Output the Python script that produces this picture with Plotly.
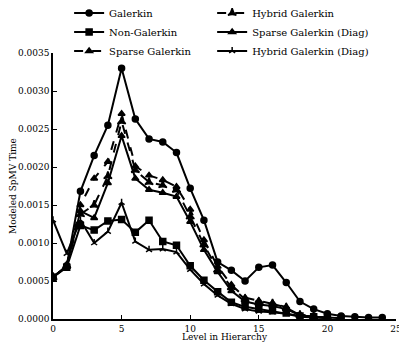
import plotly.graph_objects as go

levels = list(range(25))

galerkin = [0.00055, 0.0007, 0.00168, 0.00215, 0.00255, 0.0033, 0.00263, 0.00237, 0.00233,
            0.00219, 0.00172, 0.0013, 0.00075, 0.00064, 0.0005, 0.00068, 0.00071, 0.00048,
            0.00023, 0.00013, 0.00007, 0.00004, 0.00003, 0.00002, 0.00002]
non_galerkin = [0.00055, 0.00068, 0.00123, 0.00117, 0.00129, 0.00131, 0.00114, 0.0013, 0.00102,
                0.00097, 0.0007, 0.00051, 0.00036, 0.00022, 0.00016, 0.00013, 0.00011, 0.00008,
                0.00004, 0.00003, 0.00002, 0.00001]
sparse_galerkin = [0.00055, 0.0007, 0.0015, 0.00185, 0.00207, 0.0027, 0.00201, 0.00189, 0.00183,
                   0.00174, 0.00144, 0.00104, 0.00069, 0.00045, 0.00028, 0.00024, 0.00021, 0.00016,
                   0.00006, 0.00003, 0.00002]
hybrid_galerkin = [0.00055, 0.0007, 0.00138, 0.0015, 0.00188, 0.0026, 0.00196, 0.0018, 0.00176,
                   0.0017, 0.00135, 0.00098, 0.00065, 0.00042, 0.00026, 0.00022, 0.0002, 0.00015,
                   0.00005, 0.00003, 0.00002]
sparse_diag = [0.00055, 0.0007, 0.00142, 0.00133, 0.00179, 0.00241, 0.00185, 0.0017, 0.00166,
               0.00161, 0.00128, 0.00091, 0.00062, 0.00037, 0.00023, 0.00019, 0.00017, 0.00013,
               0.00005, 0.00003, 0.00002]
hybrid_diag = [0.0013, 0.00086, 0.0013, 0.001, 0.00115, 0.00153, 0.00102, 0.00091, 0.00092,
               0.00088, 0.00065, 0.00046, 0.00031, 0.0002, 0.00013, 0.0001, 0.00009, 0.00007,
               0.00003, 0.00002, 0.00001]

x_ticks = [0, 5, 10, 15, 20, 25]
y_ticks = [0.0, 0.0005, 0.001, 0.0015, 0.002, 0.0025, 0.003, 0.0035]

# (name, values, marker symbol, marker size, dash, legend column)
series = [
    ("Galerkin", galerkin, "circle", 6, "solid", "legend"),
    ("Non-Galerkin", non_galerkin, "square", 6, "solid", "legend"),
    ("Sparse Galerkin", sparse_galerkin, "triangle-up", 6, "dash", "legend"),
    ("Hybrid Galerkin", hybrid_galerkin, "star-triangle-up", 6, "dash", "legend2"),
    ("Sparse Galerkin (Diag)", sparse_diag, "triangle-up", 6, "solid", "legend2"),
    ("Hybrid Galerkin (Diag)", hybrid_diag, "y-up", 5, "solid", "legend2"),
]

fig = go.Figure()
for name, vals, sym, size, dash, leg in series:
    fig.add_trace(go.Scatter(
        x=levels[:len(vals)], y=vals,
        mode="lines+markers",
        name=name,
        legend=leg,
        line=dict(color="black", width=2, dash=dash),
        marker=dict(symbol=sym, size=size, color="black",
                    line=dict(color="black", width=1.5)),
    ))

font = dict(family="DejaVu Serif", size=9, color="black")
leg_font = dict(family="DejaVu Serif", size=10, color="black")
# page body adds 8px on each side, so the figure is smaller than the window
fig.update_layout(
    width=399, height=334,
    paper_bgcolor="white", plot_bgcolor="white",
    font=font,
    margin=dict(l=45, r=11, t=45, b=23, autoexpand=False),
    legend=dict(x=0.047, y=1.205, xanchor="left", yanchor="top", itemwidth=30,
                font=leg_font, bgcolor="rgba(0,0,0,0)", tracegroupgap=0),
    legend2=dict(x=0.464, y=1.205, xanchor="left", yanchor="top", itemwidth=30,
                 font=leg_font, bgcolor="rgba(0,0,0,0)", tracegroupgap=0),
    xaxis=dict(
        range=[0, 25], tickvals=x_ticks, showgrid=False, zeroline=False,
        showline=True, linecolor="black", linewidth=1.5,
        ticks="inside", ticklen=4, tickcolor="black", ticklabeloverflow="allow",
        title=dict(text="Level in Hierarchy", standoff=4, font=font),
    ),
    yaxis=dict(
        range=[0, 0.0035], tickvals=y_ticks, tickformat=".4f", showgrid=False,
        zeroline=False, showline=True, linecolor="black", linewidth=1.5,
        ticks="inside", ticklen=4, tickcolor="black",
        title=dict(text="Modeled SpMV Time", standoff=10, font=font),
    ),
)

fig.write_html("out.html")
